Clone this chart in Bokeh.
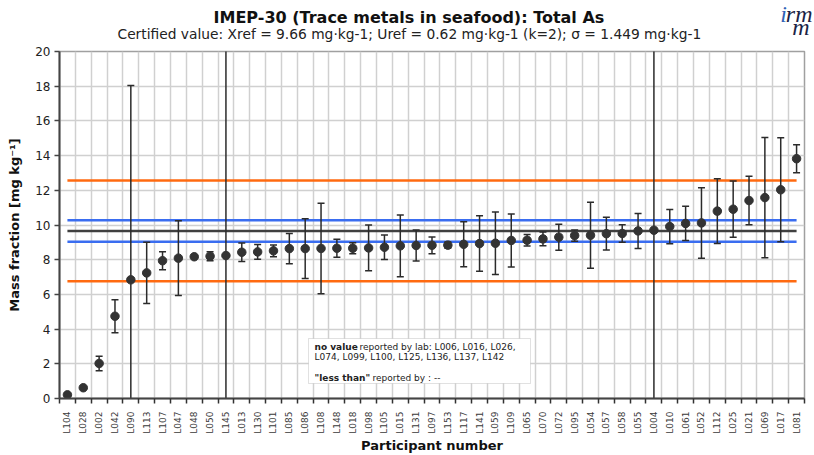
import math
import numpy as np
from bokeh.plotting import figure
from bokeh.models import Range1d, FixedTicker, Title, Label, BoxAnnotation
from bokeh.embed import file_html
from bokeh.resources import INLINE

# ---------------- data ----------------
labs = ["L104", "L028", "L002", "L042", "L090", "L113", "L107", "L047", "L048", "L050",
        "L145", "L013", "L130", "L101", "L085", "L086", "L108", "L148", "L018", "L098",
        "L105", "L015", "L131", "L097", "L153", "L117", "L141", "L059", "L109", "L065",
        "L070", "L072", "L095", "L054", "L057", "L058", "L055", "L004", "L010", "L061",
        "L052", "L112", "L025", "L021", "L069", "L017", "L081"]
vals = [0.21, 0.62, 2.02, 4.74, 6.84, 7.24, 7.94, 8.09, 8.17, 8.20,
        8.24, 8.43, 8.45, 8.51, 8.64, 8.64, 8.65, 8.66, 8.66, 8.68,
        8.72, 8.80, 8.82, 8.83, 8.84, 8.89, 8.93, 8.95, 9.11, 9.12,
        9.20, 9.30, 9.39, 9.41, 9.50, 9.51, 9.66, 9.70, 9.91, 10.09,
        10.12, 10.80, 10.91, 11.41, 11.58, 12.03, 13.82]
unc = [None, None, 0.42, 0.95, 11.2, 1.76, 0.52, 2.16, None, 0.26,
       12.0, 0.53, 0.43, 0.34, 0.87, 1.72, 2.61, 0.52, 0.32, 1.32,
       0.71, 1.78, 0.89, 0.48, 0.18, 1.30, 1.60, 1.80, 1.53, 0.33,
       0.39, 0.75, 0.32, 1.90, 0.94, 0.51, 1.01, 10.6, 0.99, 0.99,
       2.03, 1.86, 1.62, 1.40, 3.47, 3.00, 0.81]
XREF = 9.66
UREF = 0.62
SIGMA = 1.449
no_value_labs = ["L006", "L016", "L026", "L074", "L099", "L100", "L125", "L136", "L137", "L142"]
y_ticks = list(range(0, 21, 2))

TITLE = "IMEP-30 (Trace metals in seafood): Total As"
SUBTITLE = "Certified value: Xref = 9.66 mg·kg-1; Uref = 0.62 mg·kg-1 (k=2); σ = 1.449 mg·kg-1"

# ---------------- derived ----------------
n = len(labs)
idx = list(range(n))
v = np.array(vals, dtype=float)
u = np.array([np.nan if a is None else a for a in unc], dtype=float)
hi = v + u
lo = v - u

FONT = "DejaVu Sans"
LOGO_FONT = "Liberation Serif"
LOGO_FS = "24px"

p = figure(width=814, height=455, x_range=Range1d(-0.5, n - 0.5), y_range=Range1d(0, 20),
           output_backend="svg", toolbar_location=None,
           min_border_left=59, min_border_right=10, min_border_top=51, min_border_bottom=57)
p.background_fill_color = "white"
p.border_fill_color = "white"
p.outline_line_color = "#a0a0a0"
p.outline_line_width = 1.5

# ---- header rows. The first row added sits next to the plot; it is an empty spacer that
# sets a common base line, all other rows have zero height and are placed by their standoff.
spacer = Title(text=" ", text_font=FONT, text_font_size="13.8px", standoff=31)
p.add_layout(spacer, "above")

sub = Title(text=SUBTITLE, align="left", offset=58, vertical_align="bottom", text_font=FONT,
            text_font_style="normal", text_font_size="13.8px", text_color="#222222", standoff=-78)
p.add_layout(sub, "above")

main = Title(text=TITLE, align="left", offset=154, vertical_align="bottom", text_font=FONT,
             text_font_style="bold", text_font_size="16px", text_color="#111111", standoff=-48)
p.add_layout(main, "above")

logo_m = Title(text="m", align="right", offset=-5, vertical_align="bottom", text_font=LOGO_FONT,
               text_font_style="italic", text_font_size=LOGO_FS, text_color="#1b2346", standoff=-75.4)
p.add_layout(logo_m, "above")

logo_i = Title(text="i", align="right", offset=17.6, vertical_align="bottom", text_font=LOGO_FONT,
               text_font_style="italic", text_font_size=LOGO_FS, text_color="#2f62b5", standoff=-49.4)
p.add_layout(logo_i, "above")

p.title.text = "rm"
p.title.align = "right"
p.title.offset = -8
p.title.vertical_align = "bottom"
p.title.text_font = LOGO_FONT
p.title.text_font_style = "italic"
p.title.text_font_size = LOGO_FS
p.title.text_color = "#1b2346"
p.title.standoff = -49.4

# grids
p.xgrid.ticker = FixedTicker(ticks=[i - 0.5 for i in range(n + 1)])
p.ygrid.ticker = FixedTicker(ticks=y_ticks)
for g in (p.xgrid, p.ygrid):
    g.grid_line_color = "#d0d0d0"
    g.grid_line_width = 1.5

# y axis
p.yaxis.ticker = FixedTicker(ticks=y_ticks)
p.yaxis.axis_line_color = "#444444"
p.yaxis.axis_line_width = 2
p.yaxis.major_tick_out = 5
p.yaxis.major_tick_in = 0
p.yaxis.major_tick_line_color = "#444444"
p.yaxis.major_tick_line_width = 1.5
p.yaxis.major_label_text_font = FONT
p.yaxis.major_label_text_font_size = "12px"
p.yaxis.major_label_text_color = "#222222"
p.yaxis.major_label_standoff = 4
p.yaxis.axis_label = "Mass fraction [mg kg⁻¹]"
p.yaxis.axis_label_text_font = FONT
p.yaxis.axis_label_text_font_style = "bold"
p.yaxis.axis_label_text_font_size = "13px"
p.yaxis.axis_label_text_color = "#111111"
p.yaxis.axis_label_standoff = 10

# x axis
p.xaxis.ticker = FixedTicker(ticks=idx, minor_ticks=[i - 0.5 for i in range(n + 1)])
p.xaxis.major_label_overrides = {i: lab for i, lab in enumerate(labs)}
p.xaxis.major_label_orientation = math.pi / 2
p.xaxis.major_tick_out = 0
p.xaxis.major_tick_in = 0
p.xaxis.minor_tick_out = 5
p.xaxis.minor_tick_in = 0
p.xaxis.minor_tick_line_color = "#333333"
p.xaxis.minor_tick_line_width = 1.5
p.xaxis.axis_line_color = "#444444"
p.xaxis.axis_line_width = 2
p.xaxis.major_label_text_font = FONT
p.xaxis.major_label_text_font_size = "9px"
p.xaxis.major_label_text_color = "#3a3a3a"
p.xaxis.major_label_standoff = 8
p.xaxis.axis_label = "Participant number"
p.xaxis.axis_label_text_font = FONT
p.xaxis.axis_label_text_font_style = "bold"
p.xaxis.axis_label_text_font_size = "13px"
p.xaxis.axis_label_text_color = "#111111"
p.xaxis.axis_label_standoff = 1

# reference lines
x0 = [idx[0]]
x1 = [idx[-1]]
p.segment(x0=x0 * 2, x1=x1 * 2, y0=[XREF - 2 * SIGMA, XREF + 2 * SIGMA], y1=[XREF - 2 * SIGMA, XREF + 2 * SIGMA],
          line_color="#ff6a10", line_width=2.5)
p.segment(x0=x0 * 2, x1=x1 * 2, y0=[XREF - UREF, XREF + UREF], y1=[XREF - UREF, XREF + UREF],
          line_color="#3a6df0", line_width=2.5)
p.segment(x0=x0, x1=x1, y0=[XREF], y1=[XREF], line_color="#404040", line_width=2.5)

# error bars
p.segment(x0=idx, x1=idx, y0=lo, y1=hi, line_color="#2b2b2b", line_width=1.5)
p.scatter(x=idx + idx, y=list(hi) + list(lo), marker="dash", size=7,
          line_color="#2b2b2b", line_width=1.5)

# points
p.scatter(x=idx, y=vals, size=8.5, fill_color="#333333", line_color="#333333")

# note box (screen units relative to the plot frame)
box = BoxAnnotation(left=249, right=471, bottom=15, top=60,
                    left_units="screen", right_units="screen", top_units="screen", bottom_units="screen",
                    fill_color="white", fill_alpha=1.0, line_color="#9a9a9a", line_width=1)
p.add_layout(box)

NOTE_FS = "9px"
def note(x, y, text, bold=False):
    p.add_layout(Label(x=x, y=y, x_units="screen", y_units="screen", text=text,
                       text_font=FONT, text_font_size=NOTE_FS,
                       text_font_style="bold" if bold else "normal",
                       text_color="#222222", text_baseline="middle", text_align="left"))

note(255, 52, "no value", True)
note(300, 52, "reported by lab: " + ", ".join(no_value_labs[:3]) + ",")
note(255, 42, ", ".join(no_value_labs[3:]))
note(255, 21, "\"less than\"", True)
note(313, 21, "reported by : --")

open("out.html", "w").write(file_html(p, INLINE))
